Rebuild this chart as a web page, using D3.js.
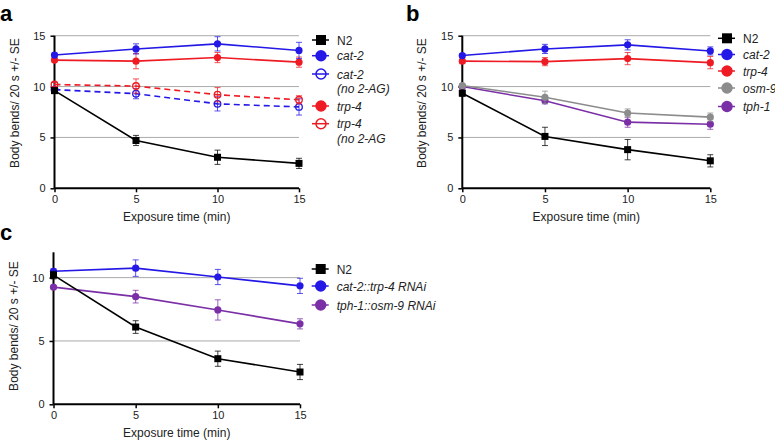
<!DOCTYPE html>
<html><head><meta charset="utf-8">
<script src="https://cdn.jsdelivr.net/npm/d3@7"></script>
<style>
html,body{margin:0;padding:0;background:#fff;}
svg{display:block;font-family:"Liberation Sans",Arial,sans-serif;}
</style></head>
<body>
<svg id="chart" width="775" height="442"></svg>
<script>
// ---------- data ----------
const times = [0, 5, 10, 15];
const yTicksAB = [0, 5, 10, 15];
const yTicksC = [0, 5, 10];
const xTicks = [0, 5, 10, 15];

// panel a
const aN2 = [9.6, 4.7, 3.05, 2.45];
const aN2Err = [0.2, 0.5, 0.7, 0.5];
const aCat2 = [13.1, 13.7, 14.2, 13.55];
const aCat2Err = [0.2, 0.5, 0.7, 0.8];
const aCat2No = [9.7, 9.3, 8.3, 8.0];
const aCat2NoErr = [0.2, 0.5, 0.7, 0.8];
const aTrp4 = [12.6, 12.5, 12.85, 12.4];
const aTrp4Err = [0.2, 0.75, 0.5, 0.5];
const aTrp4No = [10.2, 10.05, 9.2, 8.7];
const aTrp4NoErr = [0.2, 0.7, 0.7, 0.4];

// panel b
const bN2 = [9.35, 5.1, 3.8, 2.7];
const bN2Err = [0.3, 0.9, 1.0, 0.6];
const bCat2 = [13.05, 13.7, 14.1, 13.5];
const bCat2Err = [0.2, 0.45, 0.5, 0.4];
const bTrp4 = [12.5, 12.45, 12.75, 12.35];
const bTrp4Err = [0.2, 0.4, 0.6, 0.6];
const bOsm9 = [10.1, 8.95, 7.4, 7.0];
const bOsm9Err = [0.2, 0.6, 0.4, 0.4];
const bTph1 = [10.0, 8.6, 6.5, 6.3];
const bTph1Err = [0.2, 0.3, 0.5, 0.5];

// panel c
const cN2 = [10.2, 6.1, 3.6, 2.55];
const cN2Err = [0.3, 0.5, 0.6, 0.6];
const cCat2Trp4 = [10.5, 10.75, 10.05, 9.35];
const cCat2Trp4Err = [0.2, 0.65, 0.6, 0.6];
const cTph1Osm9 = [9.25, 8.5, 7.45, 6.35];
const cTph1Osm9Err = [0.1, 0.5, 0.8, 0.4];

const BLUE = "#2318e6", RED = "#ee1b24", GRAY = "#8c8c8c", PURPLE = "#7a2fa6", BLACK = "#000";

const svg = d3.select("#chart");

function drawPanel(p) {
  const g = svg.append("g");
  const x = d3.scaleLinear().domain([0, 15]).range([p.x0, p.x1]);
  const y = d3.scaleLinear().domain([0, p.ymax]).range([p.y0, p.y1]);

  // gridlines
  g.selectAll(".grid").data(p.yTicks.filter(d => d > 0)).enter().append("line")
    .attr("x1", p.x0).attr("x2", p.x1)
    .attr("y1", d => y(d)).attr("y2", d => y(d))
    .attr("stroke", "#aaaaaa").attr("stroke-width", 1);

  // axes
  const ya = d3.axisLeft(y).tickValues(p.yTicks).tickSize(4).tickPadding(5).tickFormat(d3.format("d"));
  const yg = g.append("g").attr("transform", `translate(${p.x0},0)`).call(ya);
  const xa = d3.axisBottom(x).tickValues(xTicks).tickSize(4).tickPadding(3).tickFormat(d3.format("d"));
  const xg = g.append("g").attr("transform", `translate(0,${p.y0})`).call(xa);
  [yg, xg].forEach(a => {
    a.select(".domain").attr("stroke", "#000").attr("stroke-width", 2);
    a.selectAll(".tick line").attr("stroke", "#000").attr("stroke-width", 1.5);
    a.selectAll(".tick text").attr("font-size", 11).attr("fill", "#222")
      .attr("font-family", "Liberation Sans, Arial, sans-serif");
  });
  yg.select(".domain").attr("d", `M0,${p.y0}V${p.y1}`);
  xg.select(".domain").attr("d", `M${p.x0},0H${p.x1}`);

  // axis titles
  g.append("text").attr("x", (p.x0 + p.x1) / 2).attr("y", p.y0 + 32.5)
    .attr("text-anchor", "middle").attr("font-size", 12).attr("fill", "#222")
    .text("Exposure time (min)");
  g.append("text").attr("transform", `translate(${p.x0 - 36},${p.ylabCenter}) rotate(-90)`)
    .attr("text-anchor", "middle").attr("font-size", 12).attr("fill", "#222")
    .text("Body bends/ 20 s +/- SE");

  // panel letter
  g.append("text").attr("x", p.letterX).attr("y", p.letterY)
    .attr("font-size", 22).attr("font-weight", "bold").text(p.letter);

  const line = d3.line().x((d, i) => x(times[i])).y(d => y(d));

  p.series.forEach(s => {
    const sg = g.append("g");
    sg.append("path").datum(s.values).attr("d", line)
      .attr("fill", "none").attr("stroke", s.color).attr("stroke-width", 1.6)
      .attr("stroke-dasharray", s.dashed ? "6,4" : null);
    // error bars
    const eb = sg.selectAll(".eb").data(s.values).enter().append("g")
      .attr("stroke", s.color).attr("stroke-opacity", 0.75).attr("stroke-width", 1);
    eb.append("line").attr("x1", (d, i) => x(times[i])).attr("x2", (d, i) => x(times[i]))
      .attr("y1", (d, i) => y(d - s.err[i])).attr("y2", (d, i) => y(d + s.err[i]));
    eb.append("line").attr("x1", (d, i) => x(times[i]) - 3).attr("x2", (d, i) => x(times[i]) + 3)
      .attr("y1", (d, i) => y(d - s.err[i])).attr("y2", (d, i) => y(d - s.err[i]));
    eb.append("line").attr("x1", (d, i) => x(times[i]) - 3).attr("x2", (d, i) => x(times[i]) + 3)
      .attr("y1", (d, i) => y(d + s.err[i])).attr("y2", (d, i) => y(d + s.err[i]));
    // markers
    if (s.shape === "square") {
      sg.selectAll(".m").data(s.values).enter().append("rect")
        .attr("x", (d, i) => x(times[i]) - 3.5).attr("y", d => y(d) - 3.5)
        .attr("width", 7).attr("height", 7).attr("fill", s.color);
    } else {
      sg.selectAll(".m").data(s.values).enter().append("circle")
        .attr("cx", (d, i) => x(times[i])).attr("cy", d => y(d)).attr("r", s.open ? 3.3 : 3.6)
        .attr("fill", s.open ? "#fff" : s.color).attr("fill-opacity", s.open ? 0 : 1)
        .attr("stroke", s.color).attr("stroke-width", s.open ? 1.3 : 0);
    }
  });

  // legend
  p.legend.forEach(L => {
    const lg = g.append("g");
    lg.append("line").attr("x1", p.legX - 9).attr("x2", p.legX + 8)
      .attr("y1", L.y).attr("y2", L.y).attr("stroke", L.s.color).attr("stroke-width", 1.5);
    if (L.s.shape === "square") {
      lg.append("rect").attr("x", p.legX - 5).attr("y", L.y - 5).attr("width", 10).attr("height", 10).attr("fill", L.s.color);
    } else {
      lg.append("circle").attr("cx", p.legX).attr("cy", L.y).attr("r", L.s.open ? 5 : 5.7)
        .attr("fill", L.s.open ? "none" : L.s.color).attr("stroke", L.s.color).attr("stroke-width", L.s.open ? 1.5 : 0);
    }
    const t = lg.append("text").attr("x", p.legX + 16).attr("y", L.y + 4.5)
      .attr("font-size", 12).attr("fill", "#222")
      .attr("font-style", L.italic ? "italic" : "normal");
    L.lines.forEach((ln, k) => {
      t.append("tspan").attr("x", p.legX + 16).attr("dy", k === 0 ? 0 : 14.5).text(ln);
    });
  });
}

// panel a
const sA = {
  n2: {values: aN2, err: aN2Err, color: BLACK, shape: "square"},
  cat2: {values: aCat2, err: aCat2Err, color: BLUE},
  cat2No: {values: aCat2No, err: aCat2NoErr, color: BLUE, open: true, dashed: true},
  trp4: {values: aTrp4, err: aTrp4Err, color: RED},
  trp4No: {values: aTrp4No, err: aTrp4NoErr, color: RED, open: true, dashed: true}
};
drawPanel({
  x0: 54.5, x1: 299, y0: 188.3, y1: 35.7, ymax: 15, yTicks: yTicksAB, ylabCenter: 103,
  letter: "a", letterX: 0, letterY: 21,
  series: [sA.cat2No, sA.trp4No, sA.trp4, sA.cat2, sA.n2],
  legX: 321,
  legend: [
    {s: sA.n2, y: 40, lines: ["N2"]},
    {s: sA.cat2, y: 55.7, lines: ["cat-2"], italic: true},
    {s: sA.cat2No, y: 74, lines: ["cat-2", "(no 2-AG)"], italic: true},
    {s: sA.trp4, y: 106, lines: ["trp-4"], italic: true},
    {s: sA.trp4No, y: 123.7, lines: ["trp-4", "(no 2-AG"], italic: true}
  ]
});

// panel b
const sB = {
  n2: {values: bN2, err: bN2Err, color: BLACK, shape: "square"},
  cat2: {values: bCat2, err: bCat2Err, color: BLUE},
  trp4: {values: bTrp4, err: bTrp4Err, color: RED},
  osm9: {values: bOsm9, err: bOsm9Err, color: GRAY},
  tph1: {values: bTph1, err: bTph1Err, color: PURPLE}
};
drawPanel({
  x0: 462.3, x1: 710.3, y0: 188.3, y1: 35.7, ymax: 15, yTicks: yTicksAB, ylabCenter: 103,
  letter: "b", letterX: 406, letterY: 21,
  series: [sB.tph1, sB.osm9, sB.trp4, sB.cat2, sB.n2],
  legX: 727,
  legend: [
    {s: sB.n2, y: 38.3, lines: ["N2"]},
    {s: sB.cat2, y: 54.5, lines: ["cat-2"], italic: true},
    {s: sB.trp4, y: 71, lines: ["trp-4"], italic: true},
    {s: sB.osm9, y: 88, lines: ["osm-9"], italic: true},
    {s: sB.tph1, y: 106.5, lines: ["tph-1"], italic: true}
  ]
});

// panel c
const sC = {
  n2: {values: cN2, err: cN2Err, color: BLACK, shape: "square"},
  ct: {values: cCat2Trp4, err: cCat2Trp4Err, color: BLUE},
  to: {values: cTph1Osm9, err: cTph1Osm9Err, color: PURPLE}
};
drawPanel({
  x0: 53.5, x1: 300, y0: 404.3, y1: 252.3, ymax: 12, yTicks: yTicksC, ylabCenter: 326,
  letter: "c", letterX: 0, letterY: 240,
  series: [sC.to, sC.ct, sC.n2],
  legX: 320.7,
  legend: [
    {s: sC.n2, y: 269, lines: ["N2"]},
    {s: sC.ct, y: 286, lines: ["cat-2::trp-4 RNAi"], italic: true},
    {s: sC.to, y: 305, lines: ["tph-1::osm-9 RNAi"], italic: true}
  ]
});
</script>
</body></html>
